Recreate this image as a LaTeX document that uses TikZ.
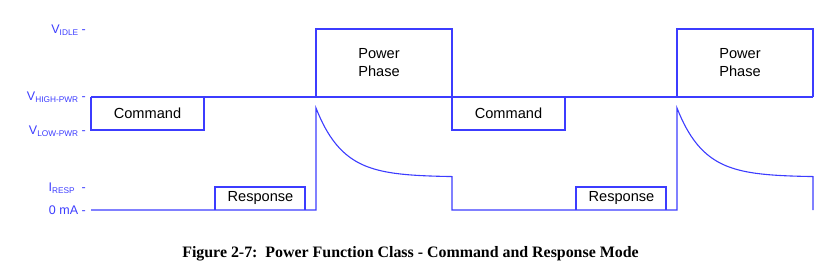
\documentclass[tikz,border=0pt]{standalone}
\usepackage{fontspec}
\setmainfont{Liberation Sans}
\newfontfamily\capfont{Liberation Serif}
\definecolor{wave}{RGB}{60,60,255}
\newcommand{\sublbl}[2]{#1\raisebox{-0.35ex}{\fontsize{8.3}{9}\selectfont #2}}
\begin{document}
\begin{tikzpicture}[x=1pt,y=-1pt,
  wv/.style={draw=wave,line width=1.1pt,line join=miter},
  boxtext/.style={font=\fontsize{14.6}{18}\selectfont,text=black,inner sep=0pt,align=center},
  axlbl/.style={font=\fontsize{12.5}{14}\selectfont,text=wave,inner sep=0pt,anchor=base east},
  captext/.style={font=\capfont\bfseries\fontsize{15.9}{18}\selectfont,inner sep=0pt}]
\useasboundingbox (0,0) rectangle (828,279);
% axis labels
\node[axlbl] (lidle) at (86,33) {\sublbl{V}{IDLE} -};
\node[axlbl] (lhigh) at (86,100) {\sublbl{V}{HIGH-PWR} -};
\node[axlbl] (llow)  at (86,134) {\sublbl{V}{LOW-PWR} -};
\node[axlbl] (lresp) at (86,191) {\sublbl{I}{RESP}\ \ -};
\node[axlbl] (lzero) at (86,214) {0 mA -};
% voltage waveform
\draw[wv] (91,97) -- (813,97);
\draw[wv] (91,97) -- (91,130) -- (204,130) -- (204,97);
\draw[wv] (452,97) -- (452,130) -- (565,130) -- (565,97);
\draw[wv] (316,97) -- (316,29) -- (452,29) -- (452,97);
\draw[wv] (677,97) -- (677,29) -- (813,29) -- (813,97);
% current waveform
\draw[wv] (91,210) -- (316,210) -- (316,108)
  -- plot[domain=0:136,samples=60,variable=\t] ({316+\t},{177-69*exp(-\t/27)})
  -- (452,210) -- (677,210) -- (677,108)
  -- plot[domain=0:136,samples=60,variable=\t] ({677+\t},{177-69*exp(-\t/27)})
  -- (813,210);
\draw[wv] (215,210) -- (215,187) -- (305,187) -- (305,210);
\draw[wv] (576,210) -- (576,187) -- (666,187) -- (666,210);
% box texts
\node[boxtext] (cmd1) at (147.5,113.5) {Command};
\node[boxtext] (cmd2) at (508.5,113.5) {Command};
\node[boxtext] (rsp1) at (260.5,198) {Response};
\node[boxtext] (rsp2) at (621.5,198) {Response};
\node[boxtext] (pp1) at (379,63) {Power\\Phase};
\node[boxtext] (pp2) at (740,63) {Power\\Phase};
% caption
\node[captext] (cap) at (410.5,254) {Figure 2-7:\ \ Power Function Class - Command and Response Mode};
\end{tikzpicture}
\end{document}
